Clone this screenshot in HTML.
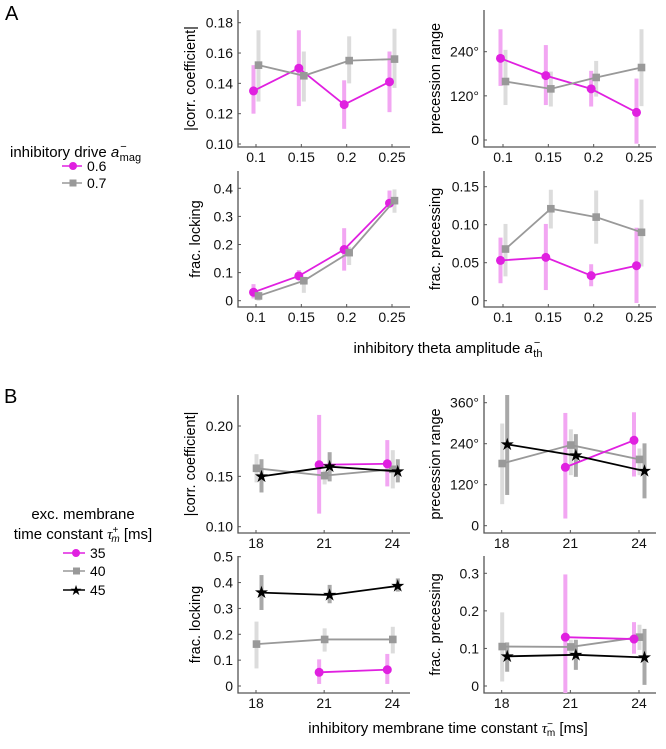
<!DOCTYPE html>
<html><head><meta charset="utf-8"><style>
body{margin:0;background:#fff;}
svg{display:block;font-family:"Liberation Sans",sans-serif;}
</style></head><body>
<svg id="fig" width="666" height="749" viewBox="0 0 666 749" xmlns="http://www.w3.org/2000/svg">
<text x="5" y="20" font-size="20">A</text>
<text x="4" y="403" font-size="20">B</text>
<g>
<text x="10" y="157" font-size="15">inhibitory drive <tspan font-style="italic">a</tspan><tspan font-size="11" dy="-7" dx="1">−</tspan><tspan font-size="11" dy="11" dx="-7">mag</tspan></text>
<g><line x1="62" y1="166" x2="82" y2="166" stroke="#e020e0" stroke-width="1.6"/><circle cx="73" cy="166" r="4" fill="#e020e0"/><text x="87" y="171" font-size="14">0.6</text></g>
<g><line x1="62" y1="183" x2="82" y2="183" stroke="#999" stroke-width="1.6"/><rect x="69.5" y="179.5" width="7" height="7" fill="#999"/><text x="87" y="188" font-size="14">0.7</text></g>
</g>
<g>
<text x="83" y="519" font-size="15" text-anchor="middle">exc. membrane</text>
<text x="83" y="539" font-size="15" text-anchor="middle">time constant <tspan font-style="italic" font-family="Liberation Serif">τ</tspan><tspan font-size="10" dy="-6">+</tspan><tspan font-size="10" dy="9" dx="-7" font-style="italic">m</tspan><tspan dy="-3"> [ms]</tspan></text>
<g><line x1="63" y1="553" x2="85" y2="553" stroke="#e020e0" stroke-width="1.6"/><circle cx="76" cy="553" r="4" fill="#e020e0"/><text x="90" y="558" font-size="14">35</text></g>
<g><line x1="63" y1="571" x2="85" y2="571" stroke="#999" stroke-width="1.6"/><rect x="73" y="567.5" width="7" height="7" fill="#999"/><text x="90" y="576" font-size="14">40</text></g>
<g><line x1="63" y1="590" x2="85" y2="590" stroke="#000" stroke-width="1.6"/><text x="76" y="595" font-size="14" text-anchor="middle">★</text><text x="90" y="595" font-size="14">45</text></g>
</g>
<text x="448" y="353" font-size="15" text-anchor="middle">inhibitory theta amplitude <tspan font-style="italic">a</tspan><tspan font-size="11" dy="-7" dx="1">−</tspan><tspan font-size="11" dy="11" dx="-7">th</tspan></text>
<text x="448" y="733" font-size="15" text-anchor="middle">inhibitory membrane time constant <tspan font-style="italic" font-family="Liberation Serif">τ</tspan><tspan font-size="10" dy="-6">−</tspan><tspan font-size="10" dy="9" dx="-6">m</tspan><tspan dy="-3"> [ms]</tspan></text>
</svg>
<script>
// ---- Panel A data (x = inhibitory theta amplitude) ----
const catsA = [0.1, 0.15, 0.2, 0.25];
const xTicksA = ["0.1","0.15","0.2","0.25"];
const corrA_06 = [0.135, 0.150, 0.126, 0.141];
const corrA_06_lo = [0.120, 0.125, 0.110, 0.121];
const corrA_06_hi = [0.152, 0.175, 0.142, 0.161];
const corrA_07 = [0.152, 0.145, 0.155, 0.156];
const corrA_07_lo = [0.128, 0.128, 0.140, 0.137];
const corrA_07_hi = [0.175, 0.161, 0.171, 0.176];
const precA_06 = [222, 175, 139, 75];
const precA_06_lo = [147, 95, 91, -10];
const precA_06_hi = [301, 258, 188, 167];
const precA_07 = [159, 139, 170, 197];
const precA_07_lo = [95, 91, 118, 92];
const precA_07_hi = [245, 186, 215, 301];
const lockA_06 = [0.030, 0.088, 0.182, 0.347];
const lockA_06_lo = [0.008, 0.074, 0.107, 0.335];
const lockA_06_hi = [0.059, 0.109, 0.258, 0.392];
const lockA_07 = [0.017, 0.071, 0.171, 0.356];
const lockA_07_lo = [0.0, 0.028, 0.127, 0.313];
const lockA_07_hi = [0.032, 0.085, 0.192, 0.396];
const fpA_06 = [0.053, 0.057, 0.033, 0.046];
const fpA_06_lo = [0.023, 0.014, 0.019, -0.003];
const fpA_06_hi = [0.083, 0.101, 0.048, 0.096];
const fpA_07 = [0.068, 0.121, 0.110, 0.090];
const fpA_07_lo = [0.032, 0.095, 0.075, 0.045];
const fpA_07_hi = [0.101, 0.146, 0.145, 0.133];
// ---- Panel B data (x = inhibitory membrane time constant) ----
const catsB = [18, 21, 24];
const xTicksB = ["18","21","24"];
const corrB_35 = [null, 0.1615, 0.1625];
const corrB_35_lo = [null, 0.113, 0.140];
const corrB_35_hi = [null, 0.211, 0.186];
const corrB_40 = [0.158, 0.1507, 0.157];
const corrB_40_lo = [0.144, 0.142, 0.138];
const corrB_40_hi = [0.172, 0.156, 0.176];
const corrB_45 = [0.150, 0.1596, 0.155];
const corrB_45_lo = [0.134, 0.145, 0.144];
const corrB_45_hi = [0.167, 0.174, 0.167];
const precB_35 = [null, 171, 250];
const precB_35_lo = [null, 21, 144];
const precB_35_hi = [null, 330, 332];
const precB_40 = [182, 236, 194];
const precB_40_lo = [63, 148, 148];
const precB_40_hi = [299, 282, 226];
const precB_45 = [238, 205, 160];
const precB_45_lo = [90, 143, 80];
const precB_45_hi = [387, 268, 241];
const lockB_35 = [null, 0.053, 0.063];
const lockB_35_lo = [null, 0.008, 0.008];
const lockB_35_hi = [null, 0.103, 0.124];
const lockB_40 = [0.162, 0.180, 0.180];
const lockB_40_lo = [0.068, 0.133, 0.126];
const lockB_40_hi = [0.249, 0.223, 0.229];
const lockB_45 = [0.361, 0.352, 0.387];
const lockB_45_lo = [0.294, 0.320, 0.365];
const lockB_45_hi = [0.429, 0.391, 0.416];
const fpB_35 = [null, 0.130, 0.125];
const fpB_35_lo = [null, -0.03, 0.086];
const fpB_35_hi = [null, 0.297, 0.170];
const fpB_40 = [0.105, 0.104, 0.130];
const fpB_40_lo = [0.012, 0.083, 0.096];
const fpB_40_hi = [0.196, 0.123, 0.163];
const fpB_45 = [0.079, 0.083, 0.076];
const fpB_45_lo = [0.038, 0.043, 0.003];
const fpB_45_hi = [0.116, 0.123, 0.152];

const NS = "http://www.w3.org/2000/svg";
const svg = document.getElementById('fig');
let clipId = 0;
function mk(tag, attrs, parent){const e=document.createElementNS(NS,tag);for(const k in attrs)e.setAttribute(k,attrs[k]);(parent||svg).appendChild(e);return e;}
function lin(d0,d1,r0,r1){return v=>r0+(v-d0)/(d1-d0)*(r1-r0);}

const STY = {
  mag:{c:"#e020e0", bar:"#f2a6f2", m:"circle", off:-2.5},
  gry:{c:"#999999", bar:"#dcdcdc", m:"square", off:2.5},
  mag3:{c:"#e020e0", bar:"#f2a6f2", m:"circle", off:-5},
  gry3:{c:"#999999", bar:"#dcdcdc", m:"square", off:0.5},
  blk3:{c:"#000000", bar:"#a8a8a8", m:"star", off:5.5}
};

function panel(p){
  const g = mk('g',{});
  
  
  const xs = lin(p.cats[0], p.cats[p.cats.length-1], p.xr[0], p.xr[1]);
  const ys = lin(p.yd[0], p.yd[1], p.yr[0], p.yr[1]);
  const cid = 'clip'+(clipId++);
  const cp = mk('clipPath',{id:cid},g);
  mk('rect',{x:p.ax0,y:p.top,width:p.ax1-p.ax0,height:p.bot-p.top},cp);
  const ax = mk('path',{d:`M${p.ax0},${p.top} V${p.bot} H${p.ax1}`,fill:"none",stroke:"#555","stroke-width":1.3},g);
  
  
  p.cats.forEach((c,i)=>{
    const x=xs(c);
    mk('line',{x1:x,y1:p.bot,x2:x,y2:p.bot-3,stroke:"#555","stroke-width":1},g);
    const t=mk('text',{x:x,y:p.bot+15,"font-size":14,"text-anchor":"middle",fill:"#111"},g);
    t.textContent=p.xt[i];
    
    
  });
  p.yt.forEach((v,i)=>{
    const y=ys(v);
    mk('line',{x1:p.ax0,y1:y,x2:p.ax0+3,y2:y,stroke:"#555","stroke-width":1},g);
    const t=mk('text',{x:p.ax0-5,y:y+5,"font-size":14,"text-anchor":"end",fill:"#111"},g);
    t.textContent=p.ytl[i];
    
    
  });
  const yl=mk('text',{x:0,y:0,"font-size":14.5,"text-anchor":"middle",transform:`translate(${p.ylx},${(p.top+p.bot)/2}) rotate(-90)`},g);
  yl.textContent=p.ylabel;
  
  
  const cg = mk('g',{"clip-path":`url(#${cid})`},g);
  p.series.forEach(s=>{
    const st=STY[s.sty];
    s.v.forEach((v,i)=>{
      if(v===null)return;
      const x=xs(p.cats[i])+st.off;
      const b=mk('rect',{x:x-2,y:ys(s.hi[i]),width:4,height:ys(s.lo[i])-ys(s.hi[i]),fill:st.bar},cg);
      
      
    });
  });
  p.series.forEach(s=>{
    const st=STY[s.sty];
    const pts=[];
    s.v.forEach((v,i)=>{if(v!==null)pts.push([xs(p.cats[i])+st.off, ys(v)]);});
    const l=mk('polyline',{points:pts.map(q=>q.join(',')).join(' '),fill:"none",stroke:st.c,"stroke-width":1.8},g);
    
    
    pts.forEach(q=>{
      let m;
      if(st.m==="circle") m=mk('circle',{cx:q[0],cy:q[1],r:4.5,fill:st.c},g);
      else if(st.m==="square") m=mk('rect',{x:q[0]-3.8,y:q[1]-3.8,width:7.6,height:7.6,fill:st.c},g);
      else { m=mk('text',{x:q[0],y:q[1]+5.5,"font-size":17,"text-anchor":"middle",fill:"#000"},g); m.textContent="★"; }
      
      
    });
  });
}

const LA={ax0:238,ax1:410}, RA={ax0:484,ax1:656};
panel({name:"a-corr-panel",cats:catsA,xt:xTicksA,xr:[256,392],...LA,top:10,bot:147,yd:[0.10,0.18],yr:[144,22.7],
  yt:[0.10,0.12,0.14,0.16,0.18],ytl:["0.10","0.12","0.14","0.16","0.18"],ylx:195,ylabel:"|corr. coefficient|",
  series:[{sty:"mag",label:"0.6",v:corrA_06,lo:corrA_06_lo,hi:corrA_06_hi},{sty:"gry",label:"0.7",v:corrA_07,lo:corrA_07_lo,hi:corrA_07_hi}]});
panel({name:"a-precession-panel",cats:catsA,xt:xTicksA,xr:[503,639],...RA,top:10,bot:147,yd:[0,240],yr:[140,51.7],
  yt:[0,120,240],ytl:["0","120°","240°"],ylx:440,ylabel:"precession range",
  series:[{sty:"mag",label:"0.6",v:precA_06,lo:precA_06_lo,hi:precA_06_hi},{sty:"gry",label:"0.7",v:precA_07,lo:precA_07_lo,hi:precA_07_hi}]});
panel({name:"a-locking-panel",cats:catsA,xt:xTicksA,xr:[256,392],...LA,top:171,bot:307,yd:[0,0.4],yr:[300.7,188.3],
  yt:[0,0.1,0.2,0.3,0.4],ytl:["0","0.1","0.2","0.3","0.4"],ylx:200,ylabel:"frac. locking",
  series:[{sty:"mag",label:"0.6",v:lockA_06,lo:lockA_06_lo,hi:lockA_06_hi},{sty:"gry",label:"0.7",v:lockA_07,lo:lockA_07_lo,hi:lockA_07_hi}]});
panel({name:"a-precessing-panel",cats:catsA,xt:xTicksA,xr:[503,639],...RA,top:171,bot:307,yd:[0,0.15],yr:[300.7,186.7],
  yt:[0,0.05,0.10,0.15],ytl:["0","0.05","0.10","0.15"],ylx:440,ylabel:"frac. precessing",
  series:[{sty:"mag",label:"0.6",v:fpA_06,lo:fpA_06_lo,hi:fpA_06_hi},{sty:"gry",label:"0.7",v:fpA_07,lo:fpA_07_lo,hi:fpA_07_hi}]});

const serB=(a,b,c,al,ah,bl,bh,cl,ch)=>[{sty:"gry3",label:"40",v:b,lo:bl,hi:bh},{sty:"mag3",label:"35",v:a,lo:al,hi:ah},{sty:"blk3",label:"45",v:c,lo:cl,hi:ch}];
panel({name:"b-corr-panel",cats:catsB,xt:xTicksB,xr:[256,392.3],...LA,top:395,bot:533,yd:[0.10,0.20],yr:[526.7,426],
  yt:[0.10,0.15,0.20],ytl:["0.10","0.15","0.20"],ylx:195,ylabel:"|corr. coefficient|",
  series:serB(corrB_35,corrB_40,corrB_45,corrB_35_lo,corrB_35_hi,corrB_40_lo,corrB_40_hi,corrB_45_lo,corrB_45_hi)});
panel({name:"b-precession-panel",cats:catsB,xt:xTicksB,xr:[501.7,639],...RA,top:395,bot:533,yd:[0,360],yr:[525.7,402.7],
  yt:[0,120,240,360],ytl:["0","120°","240°","360°"],ylx:440,ylabel:"precession range",
  series:serB(precB_35,precB_40,precB_45,precB_35_lo,precB_35_hi,precB_40_lo,precB_40_hi,precB_45_lo,precB_45_hi)});
panel({name:"b-locking-panel",cats:catsB,xt:xTicksB,xr:[256,392.3],...LA,top:556,bot:693,yd:[0,0.5],yr:[686,556.7],
  yt:[0,0.1,0.2,0.3,0.4,0.5],ytl:["0","0.1","0.2","0.3","0.4","0.5"],ylx:200,ylabel:"frac. locking",
  series:serB(lockB_35,lockB_40,lockB_45,lockB_35_lo,lockB_35_hi,lockB_40_lo,lockB_40_hi,lockB_45_lo,lockB_45_hi)});
panel({name:"b-precessing-panel",cats:catsB,xt:xTicksB,xr:[501.7,639],...RA,top:556,bot:693,yd:[0,0.3],yr:[686,573.3],
  yt:[0,0.1,0.2,0.3],ytl:["0","0.1","0.2","0.3"],ylx:440,ylabel:"frac. precessing",
  series:serB(fpB_35,fpB_40,fpB_45,fpB_35_lo,fpB_35_hi,fpB_40_lo,fpB_40_hi,fpB_45_lo,fpB_45_hi)});
</script>
</body></html>
